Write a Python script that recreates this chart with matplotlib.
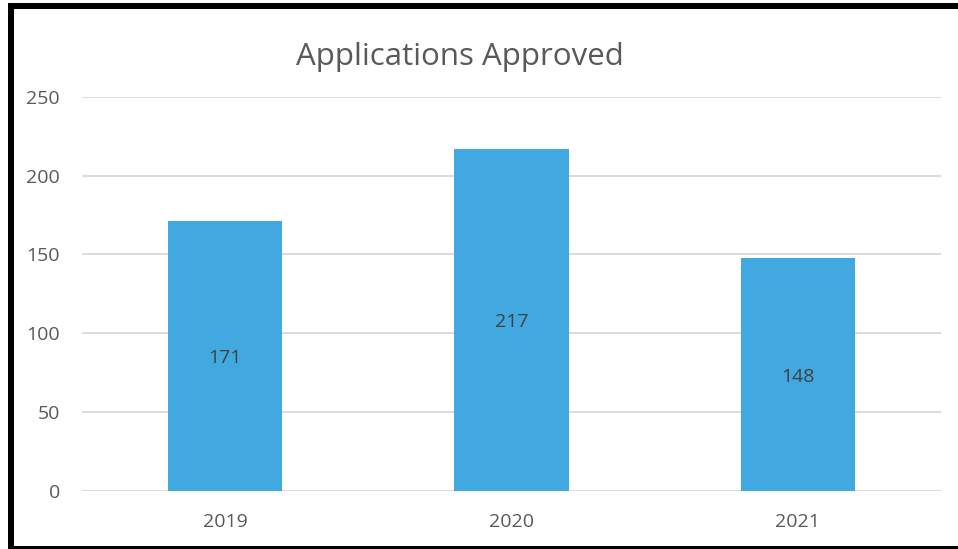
import matplotlib
matplotlib.use("Agg")
import matplotlib.pyplot as plt
from matplotlib.patches import Rectangle

years = ["2019", "2020", "2021"]
approved = [171, 217, 148]
y_ticks = [0, 50, 100, 150, 200, 250]

W, H = 958, 549
plt.rcParams["font.family"] = ["Open Sans", "DejaVu Sans"]

fig = plt.figure(figsize=(W / 100, H / 100), dpi=100)
ax = fig.add_axes([82 / W, (H - 490.7) / H, (941 - 82) / W, (490.7 - 97) / H])

x = range(len(years))
bars = ax.bar(x, approved, width=0.4, color="#41A8E0", zorder=3)
for b, v in zip(bars, approved):
    ax.text(b.get_x() + b.get_width() / 2, v / 2 - 1.5, str(v), ha="center", va="center",
            fontsize=14, color="#404040", zorder=4)

ax.set_xlim(-0.5, len(years) - 0.5)
ax.set_ylim(0, 250)
ax.set_yticks(y_ticks)
ax.set_xticks(list(x))
ax.set_xticklabels(years)
ax.grid(axis="y", color="#D9D9D9", lw=1.3, zorder=0)
for s in ax.spines.values():
    s.set_visible(False)
ax.tick_params(length=0, labelsize=14, colors="#595959")
ax.tick_params(axis="y", pad=16)
ax.tick_params(axis="x", pad=16)

fig.text(460 / W, 1 - 57 / H, "Applications Approved", ha="center", va="center",
         fontsize=22.5, color="#595959")

# black frame around the chart
fig.add_artist(Rectangle((8 / W, 0), 6 / W, 1 - 3 / H, transform=fig.transFigure, color="black", lw=0))
fig.add_artist(Rectangle((8 / W, 1 - 9 / H), 1, 6 / H, transform=fig.transFigure, color="black", lw=0))
fig.add_artist(Rectangle((8 / W, 0), 1, 3 / H, transform=fig.transFigure, color="black", lw=0))

fig.savefig("out.png", dpi=100)
